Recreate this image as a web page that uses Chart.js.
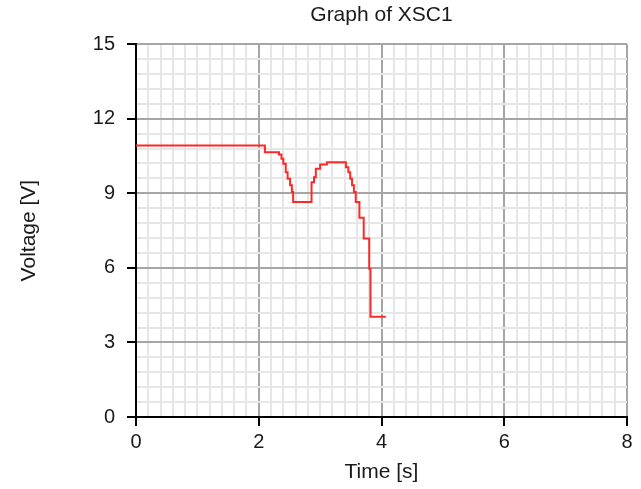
<!DOCTYPE html>
<html>
<head>
<meta charset="utf-8">
<script src="https://cdn.jsdelivr.net/npm/chart.js@4/dist/chart.umd.min.js"></script>
<style>
	body{ margin:0; background:#fff; }
	#wrap{ width:641px; height:489px; }
</style>
</head>
<body>
<div id="wrap"><canvas id="graph" width="641" height="489"></canvas></div>
<script>
'use strict';

// 読み取った値 (XSC1)
const timeSec = [0, 2.10, 2.33, 2.37, 2.40, 2.44, 2.47, 2.51, 2.54, 2.56, 2.86, 2.90, 2.93, 3.00, 3.11,
	3.42, 3.46, 3.49, 3.52, 3.55, 3.58, 3.64, 3.71, 3.80, 3.82, 4.07];
const voltage = [10.92, 10.65, 10.56, 10.39, 10.19, 9.85, 9.59, 9.32, 9.05, 8.65, 9.45, 9.65, 9.99, 10.16, 10.25,
	10.05, 9.85, 9.59, 9.32, 9.05, 8.65, 8.02, 7.18, 5.97, 4.03, 4.03];
const xTicks = [0, 2, 4, 6, 8];
const yTicks = [0, 3, 6, 9, 12, 15];

const FONT = '"Liberation Sans", Arial, sans-serif';
const majorColor = '#a6a6a6';
const minorColor = '#e6e6e6';

let points = [];
for(let i = 0; i < timeSec.length; i++){
	points.push({x: timeSec[i], y: voltage[i]});
}

function isMajor(value, list){
	for(let n = 0; n < list.length; n++){
		if(Math.abs(value - list[n]) < 1e-6) return true;
	}
	return false;
}

new Chart(document.getElementById('graph'), {
	type: 'line',
	data: {
		datasets: [{
			data: points,
			borderColor: 'rgb(255, 40, 40)',
			borderWidth: 2,
			pointRadius: 0,
			stepped: true,
			fill: false
		}]
	},
	options: {
		responsive: false,
		animation: false,
		layout: { padding: { left: 13, right: 14, top: 0, bottom: 0 } },
		plugins: {
			legend: { display: false },
			tooltip: { enabled: false },
			title: {
				display: true,
				text: 'Graph of XSC1',
				fullSize: false,
				color: '#1a1a1a',
				font: { family: FONT, size: 21, weight: 'normal' },
				padding: { top: 3, bottom: 16 }
			}
		},
		scales: {
			x: {
				type: 'linear',
				min: 0,
				max: 8,
				afterFit: (scale) => { scale.height = 72; },
				ticks: {
					stepSize: 0.2,
					autoSkip: false,
					maxRotation: 0,
					padding: 4,
					color: '#1a1a1a',
					font: { family: FONT, size: 20 },
					callback: (v) => isMajor(v, xTicks) ? Math.round(v) : ''
				},
				grid: {
					tickLength: 9,
					lineWidth: 2,
					color: (ctx) => ctx.tick && isMajor(ctx.tick.value, xTicks) ? majorColor : minorColor,
					tickColor: (ctx) => ctx.tick && isMajor(ctx.tick.value, xTicks) ? '#000' : 'rgba(0,0,0,0)'
				},
				border: { color: '#000', width: 2 },
				title: {
					display: true,
					text: 'Time [s]',
					color: '#1a1a1a',
					font: { family: FONT, size: 21 },
					padding: { top: 4, bottom: 4 }
				}
			},
			y: {
				type: 'linear',
				min: 0,
				max: 15,
				afterFit: (scale) => { scale.width = 123; },
				ticks: {
					stepSize: 0.6,
					autoSkip: false,
					padding: 12,
					color: '#1a1a1a',
					font: { family: FONT, size: 20 },
					callback: (v) => isMajor(v, yTicks) ? Math.round(v) : ''
				},
				grid: {
					tickLength: 9,
					lineWidth: 2,
					color: (ctx) => ctx.tick && isMajor(ctx.tick.value, yTicks) ? majorColor : minorColor,
					tickColor: (ctx) => ctx.tick && isMajor(ctx.tick.value, yTicks) ? '#000' : 'rgba(0,0,0,0)'
				},
				border: { color: '#000', width: 2 },
				title: {
					display: true,
					text: 'Voltage [V]',
					color: '#1a1a1a',
					font: { family: FONT, size: 21 },
					padding: { top: 4, bottom: 4 }
				}
			}
		}
	}
});
</script>
</body>
</html>
